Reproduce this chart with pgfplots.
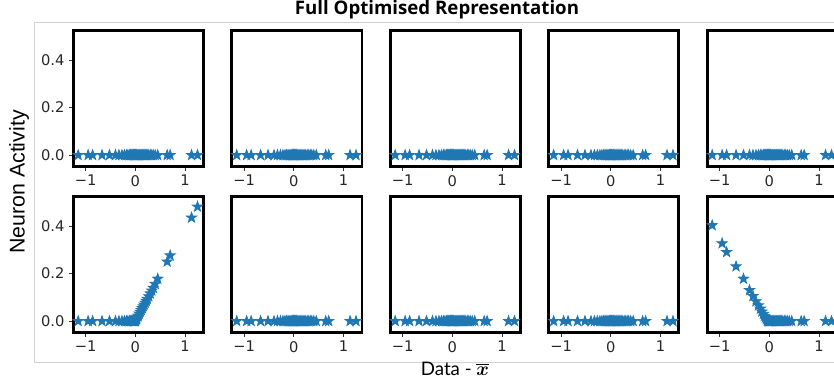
\documentclass[border=0pt]{standalone}
\usepackage{fontspec}
\usepackage{amsmath}
\usepackage{pgfplots}
\usepackage{pgfplotstable}
\pgfplotsset{compat=1.18}
\newfontfamily\dejavu{DejaVu Sans}
\newfontfamily\lato{Lato}
\newfontfamily\opensans{Open Sans}
\newfontfamily\arial{Liberation Sans}
\definecolor{tabblue}{HTML}{1F77B4}
\pgfdeclareplotmark{fstar}{%
  \pgfpathmoveto{\pgfpointpolar{90}{\pgfplotmarksize}}%
  \pgfpathlineto{\pgfpointpolar{126}{0.4\pgfplotmarksize}}%
  \pgfpathlineto{\pgfpointpolar{162}{\pgfplotmarksize}}%
  \pgfpathlineto{\pgfpointpolar{198}{0.4\pgfplotmarksize}}%
  \pgfpathlineto{\pgfpointpolar{234}{\pgfplotmarksize}}%
  \pgfpathlineto{\pgfpointpolar{270}{0.4\pgfplotmarksize}}%
  \pgfpathlineto{\pgfpointpolar{306}{\pgfplotmarksize}}%
  \pgfpathlineto{\pgfpointpolar{342}{0.4\pgfplotmarksize}}%
  \pgfpathlineto{\pgfpointpolar{18}{\pgfplotmarksize}}%
  \pgfpathlineto{\pgfpointpolar{54}{0.4\pgfplotmarksize}}%
  \pgfpathclose
  \pgfusepathqfillstroke
}
\pgfplotstableread{
x a b z
-1.15 0 0.403 0
-0.95 0 0.327 0
-0.86 0 0.290 0
-0.67 0 0.230 0
-0.52 0 0.178 0
-0.40 0 0.130 0
-0.33 0 0.105 0
-0.27 0 0.083 0
-0.22 0 0.066 0
-0.18 0 0.052 0
-0.15 0 0.040 0
-0.12 0 0.030 0
-0.10 0 0.022 0
-0.08 0 0.015 0
-0.06 0 0.008 0
-0.04 0 0.003 0
-0.03 0 0 0
-0.02 0 0 0
-0.01 0 0 0
0.00 0 0 0
0.01 0.004 0 0
0.02 0.008 0 0
0.03 0.012 0 0
0.05 0.019 0 0
0.06 0.023 0 0
0.08 0.031 0 0
0.10 0.039 0 0
0.12 0.046 0 0
0.14 0.054 0 0
0.16 0.062 0 0
0.18 0.069 0 0
0.20 0.077 0 0
0.22 0.085 0 0
0.24 0.093 0 0
0.27 0.104 0 0
0.30 0.116 0 0
0.33 0.128 0 0
0.36 0.140 0 0
0.40 0.156 0 0
0.45 0.178 0 0
0.64 0.250 0 0
0.70 0.276 0 0
1.13 0.435 0 0
1.25 0.481 0 0
}\data
\newcommand\tickfont{\fontsize{11}{13}\dejavu}
\pgfplotsset{
  panel/.style={
    width=97.7pt, height=102pt, scale only axis, anchor=north west,
    xmin=-1.25, xmax=1.37, ymin=-0.048, ymax=0.524,
    axis line style={line width=2.2pt, black},
    axis on top,
    xtick={-1,0,1}, xticklabels={−1,0,1},
    ytick=\empty,
    tick align=outside, tick pos=left,
    major tick length=3pt,
    tick style={line width=0.7pt, black!80},
    ticklabel style={font=\tickfont, text=black!85},
  },
  firstcol/.style={ytick={0,0.2,0.4}, yticklabels={0.0,0.2,0.4}},
}
\newcommand{\panel}[4]{%
  \begin{axis}[panel, at={(#1,#2)}, #4]
    \addplot[only marks, mark=fstar, color=tabblue, mark size=4pt, mark options={line width=0.6pt}] table[x=x, y=#3]{\data};
  \end{axis}}
\begin{document}
\begin{tikzpicture}
\useasboundingbox (0,0) rectangle (625.5pt,-287.25pt);
\clip (0,0) rectangle (625.5pt,-287.25pt);
\draw[line width=0.75pt, black!18] (25.5pt,-16.5pt) rectangle (660pt,-271.5pt);
\panel{54.9pt}{-22.9pt}{z}{firstcol}
\panel{173.8pt}{-22.9pt}{z}{}
\panel{292.65pt}{-22.9pt}{z}{}
\panel{411.5pt}{-22.9pt}{z}{}
\panel{530.4pt}{-22.9pt}{z}{}
\panel{54.9pt}{-147.4pt}{a}{firstcol}
\panel{173.8pt}{-147.4pt}{z}{}
\panel{292.65pt}{-147.4pt}{z}{}
\panel{411.5pt}{-147.4pt}{z}{}
\panel{530.4pt}{-147.4pt}{b}{}
\node[font={\fontsize{14}{16}\opensans\bfseries}] at (327.75pt,-7pt) {Full Optimised Representation};
\node[font={\fontsize{16}{18}\arial}, rotate=90] at (14.25pt,-136.5pt) {Neuron Activity};
\node[font={\fontsize{14}{16}\lato}] at (341.25pt,-276.75pt) {Data - $\overline{\boldsymbol{x}}$};
\end{tikzpicture}
\end{document}
